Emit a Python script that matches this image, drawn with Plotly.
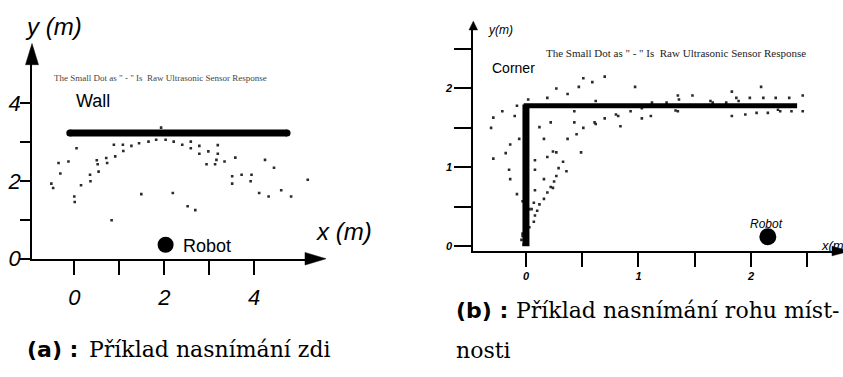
import plotly.graph_objects as go

W, H = 843, 377

# ---------------- data: panel (a) wall ----------------
A_dot_x = [-0.51, -0.47, -0.35, -0.31, -0.13, 0.00, 0.01, 0.05, 0.15, 0.35,
           0.36, 0.50, 0.52, 0.54, 0.71, 0.73, 0.83, 0.88, 0.91, 1.08,
           1.09, 1.27, 1.44, 1.49, 1.65, 1.82, 1.93, 2.03, 2.19, 2.21,
           2.40, 2.52, 2.59, 2.59, 2.69, 2.78, 2.78, 2.94, 2.98, 3.13,
           3.16, 3.19, 3.19, 3.34, 3.51, 3.51, 3.58, 3.72, 3.92, 3.94,
           4.11, 4.24, 4.32, 4.44, 4.60, 4.82, 5.19]
A_dot_y = [1.93, 1.82, 2.46, 2.19, 2.50, 1.60, 1.46, 2.84, 1.89, 2.16,
           1.99, 2.53, 2.43, 2.24, 2.59, 2.46, 0.99, 2.93, 2.63, 2.93,
           2.77, 2.90, 2.97, 1.66, 3.01, 3.06, 3.37, 3.06, 1.69, 3.01,
           2.93, 1.35, 3.01, 2.84, 1.25, 2.90, 2.70, 2.43, 2.76, 2.43,
           2.54, 2.92, 2.70, 2.50, 2.12, 1.93, 2.60, 2.16, 1.99, 2.16,
           1.69, 2.54, 1.60, 2.34, 1.76, 1.60, 2.03]
A_wall_x = [-0.10, 4.73]
A_wall_y = [3.23, 3.23]
A_robot_x = [2.03]
A_robot_y = [0.36]
A_xtick_vals = [0, 1, 2, 3, 4]
A_xtick_text = ["0", "", "2", "", "4"]
A_ytick_vals = [0, 1, 2, 3, 4]
A_ytick_text = ["0", "", "2", "", "4"]

# ---------------- data: panel (b) corner ----------------
B_dot_x = [0.51, 0.59, 0.70, 0.97, 0.47, 0.27, 0.19, 0.37, 0.02, 0.62,
           -0.29, -0.21, -0.08, -0.10, -0.31, 0.43, 0.43, 0.22, 0.12, 0.51,
           0.61, 0.62, 0.70, 0.80, 0.82, 0.93, 1.03, 1.03, 1.11, 0.84,
           0.37, 0.45, 0.16, -0.06, -0.14, -0.18, -0.29, 0.24, 0.27, 0.19,
           0.49, 0.08, 0.33, 0.08, 0.29, 0.36, -0.15, -0.14, 0.16, 0.27,
           0.25, 0.22, 0.24, 0.08, 0.19, 0.16, -0.08, 0.12, 0.07, 0.03,
           0.05, 0.10, 0.08, 0.07, 0.03, -0.03, -0.03, -0.03, -0.04, -0.02,
           1.12, 1.25, 1.33, 1.35, 1.35, 1.36, 1.48, 1.64, 1.66, 1.78,
           1.83, 1.83, 1.87, 1.89, 1.95, 1.99, 2.05, 2.09, 2.11, 2.15,
           2.22, 2.24, 2.26, 2.34, 2.36, 2.46, 2.46]
B_dot_y = [2.13, 2.08, 2.15, 2.02, 2.02, 2.00, 1.88, 1.93, 1.86, 1.84,
           1.63, 1.71, 1.78, 1.65, 1.50, 1.71, 1.57, 1.57, 1.51, 1.50,
           1.57, 1.55, 1.62, 1.67, 1.65, 1.71, 1.75, 1.62, 1.65, 1.52,
           1.36, 1.42, 1.36, 1.36, 1.29, 1.18, 1.11, 1.20, 1.19, 1.13,
           1.19, 1.09, 1.07, 0.97, 0.99, 0.95, 0.97, 0.85, 0.85, 0.89,
           0.82, 0.75, 0.74, 0.71, 0.68, 0.60, 0.66, 0.53, 0.55, 0.47,
           0.47, 0.45, 0.39, 0.31, 0.24, 0.57, 0.16, 0.13, 0.08, 0.02,
           1.82, 1.82, 1.72, 1.71, 1.91, 1.86, 1.91, 1.84, 1.82, 1.82,
           1.96, 1.65, 1.88, 1.84, 1.67, 1.88, 1.69, 2.02, 1.88, 1.69,
           1.88, 1.73, 1.71, 1.88, 1.71, 1.91, 1.71]
B_vwall_x = [0.0, 0.0]
B_vwall_y = [0.0, 1.795]
B_hwall_x = [-0.02, 2.41]
B_hwall_y = [1.78, 1.78]
B_robot_x = [2.15]
B_robot_y = [0.12]
B_tick_vals = [0, 0.5, 1, 1.5, 2, 2.5]
B_tick_text = ["0", "", "1", "", "2", ""]


def px(x):
    return x / W


def py(y):
    return 1 - y / H


fig = go.Figure()

dot_style = dict(symbol="square", size=2.6, color="#2a2a2a")

fig.add_trace(go.Scatter(x=A_dot_x, y=A_dot_y, mode="markers", marker=dot_style,
                         xaxis="x", yaxis="y", hoverinfo="skip"))
fig.add_trace(go.Scatter(x=A_wall_x, y=A_wall_y, mode="lines+markers",
                         line=dict(color="black", width=7),
                         marker=dict(size=7, color="black"),
                         xaxis="x", yaxis="y"))
fig.add_trace(go.Scatter(x=A_robot_x, y=A_robot_y, mode="markers",
                         marker=dict(size=16, color="black"),
                         xaxis="x", yaxis="y"))

fig.add_trace(go.Scatter(x=B_dot_x, y=B_dot_y, mode="markers", marker=dot_style,
                         xaxis="x2", yaxis="y2", hoverinfo="skip"))
fig.add_trace(go.Scatter(x=B_vwall_x, y=B_vwall_y, mode="lines",
                         line=dict(color="black", width=7),
                         xaxis="x2", yaxis="y2"))
fig.add_trace(go.Scatter(x=B_hwall_x, y=B_hwall_y, mode="lines",
                         line=dict(color="black", width=5),
                         xaxis="x2", yaxis="y2"))
fig.add_trace(go.Scatter(x=B_robot_x, y=B_robot_y, mode="markers",
                         marker=dict(size=17, color="black"),
                         xaxis="x2", yaxis="y2"))

a_tickfont = dict(family="Liberation Sans", size=22, color="black", style="italic")
b_tickfont = dict(family="Liberation Sans", size=11, color="black", style="italic", weight="bold")

fig.update_layout(
    width=W, height=H,
    margin=dict(l=0, r=0, t=0, b=0),
    paper_bgcolor="white", plot_bgcolor="white",
    showlegend=False,
    xaxis=dict(domain=[px(32), px(310)], range=[-0.94, 5.24], anchor="y",
               showgrid=False, zeroline=False, showline=True, linecolor="black", linewidth=1.5,
               tickvals=A_xtick_vals, ticktext=A_xtick_text, ticks="outside",
               ticklen=14, tickwidth=1.5, tickcolor="black", tickfont=a_tickfont,
               ticklabelstandoff=4),
    yaxis=dict(domain=[py(268), py(60)], range=[0, 5.161], anchor="x",
               showgrid=False, zeroline=False, showline=True, linecolor="black", linewidth=1.5,
               tickvals=A_ytick_vals, ticktext=A_ytick_text, ticks="outside",
               ticklen=10, tickwidth=1.5, tickcolor="black", tickfont=a_tickfont,
               ticklabelstandoff=-5),
    xaxis2=dict(domain=[px(473.3), 1.0], range=[-0.468, 2.818], anchor="y2",
                showgrid=False, zeroline=False, showline=True, linecolor="black", linewidth=2,
                tickvals=B_tick_vals, ticktext=B_tick_text, ticks="outside",
                ticklen=14, tickwidth=2, tickcolor="black", tickfont=b_tickfont),
    yaxis2=dict(domain=[py(260), py(28)], range=[-0.0612, 2.7785], anchor="x2",
                showgrid=False, zeroline=False, showline=True, linecolor="black", linewidth=2,
                tickvals=B_tick_vals, ticktext=B_tick_text, ticks="outside",
                ticklen=17, tickwidth=2, tickcolor="black", tickfont=b_tickfont),
)


def tri(p1, p2, p3):
    return dict(type="path", xref="paper", yref="paper",
                path="M {} {} L {} {} L {} {} Z".format(px(p1[0]), py(p1[1]), px(p2[0]), py(p2[1]),
                                                        px(p3[0]), py(p3[1])),
                fillcolor="black", line=dict(color="black", width=0.5))


fig.update_layout(shapes=[
    tri((305, 261.5), (326, 268), (305, 274.5)),
    tri((25.5, 67), (32, 45), (38.5, 67)),
    tri((469, 31), (473.3, 22), (477.6, 31)),
    tri((832, 255), (850, 260), (832, 265)),
])


def ann(text, x, y, size, family="Liberation Sans", xanchor="center", style="normal",
        weight="normal", color="black"):
    return dict(text=text, x=px(x), y=py(y), xref="paper", yref="paper", showarrow=False,
                xanchor=xanchor, yanchor="middle", borderpad=0,
                font=dict(family=family, size=size, color=color, style=style, weight=weight))


sensor = 'The Small Dot as " - " Is  Raw Ultrasonic Sensor Response'
fig.update_layout(annotations=[
    ann("y (m)", 53, 27, 24, style="italic"),
    ann("x (m)", 315, 240, 24, xanchor="left", style="italic"),
    ann("Wall", 93, 105, 18),
    ann(sensor, 160, 80.5, 9, family="Liberation Serif", color="#444"),
    ann("Robot", 207, 255, 18),
    ann("y(m)", 500, 31.5, 12, style="italic"),
    ann("Corner", 513, 70, 14),
    ann(sensor, 676, 54.5, 11, family="Liberation Serif", color="#222"),
    ann("Robot", 766, 232, 12, style="italic"),
    ann("x(m)", 820, 254, 13, xanchor="left", style="italic"),
    ann("(a) :", 26, 362, 22, family="DejaVu Sans", xanchor="left", weight="bold"),
    ann("Příklad nasnímání zdi", 88, 362, 22, family="DejaVu Serif", xanchor="left"),
    ann("(b) :", 455, 322, 22, family="DejaVu Sans", xanchor="left", weight="bold"),
    ann("Příklad nasnímání rohu míst-", 515, 322, 22, family="DejaVu Serif", xanchor="left"),
    ann("nosti", 455, 363, 22, family="DejaVu Serif", xanchor="left"),
])

fig.write_html("out.html")
